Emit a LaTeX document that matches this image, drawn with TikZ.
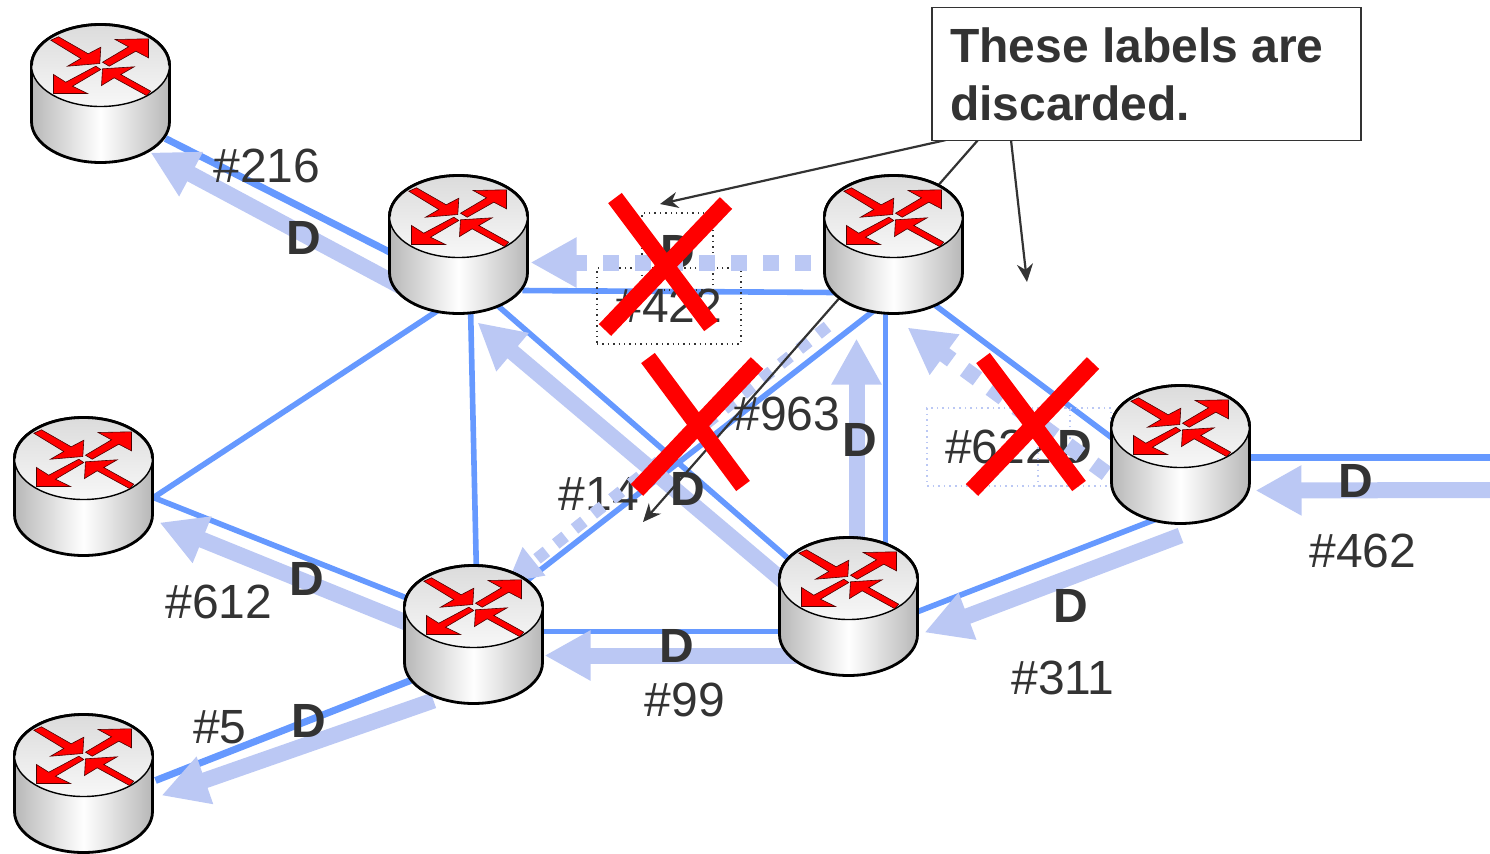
\documentclass[tikz,border=0pt]{standalone}
\usepackage{xcolor}
\usepackage{fontspec}
\usepackage{tikz}
\usetikzlibrary{arrows.meta,calc}
\setmainfont{Liberation Sans}
\definecolor{linkblue}{HTML}{6699FF}
\definecolor{lightblue}{HTML}{BBC8F4}
\definecolor{inkgray}{HTML}{333333}
\tikzset{
  routerbox/.style={inner sep=0pt,minimum size=69pt},
  link/.style={draw=linkblue,line width=2.8pt},
  heavylink/.style={draw=linkblue,line width=3.5pt},
  flow/.style={draw=lightblue,line width=8pt,-{Triangle[width=23.5pt,length=23pt,fill=lightblue]}},
  dotflow/.style={flow,dash pattern=on 8pt off 8pt},
  smalldotflow/.style={draw=lightblue,line width=6pt,dash pattern=on 6pt off 6pt,-{Triangle[width=17pt,length=17pt,fill=lightblue]}},
  pointer/.style={draw=inkgray,line width=1.1pt,-{Stealth[length=9pt,width=8pt]}},
  cross/.style={draw=red,line width=8.5pt},
  numlabel/.style={inner sep=0pt,text=inkgray,font=\fontsize{24}{29}\selectfont},
  dlabel/.style={numlabel,font=\fontsize{24}{29}\selectfont\bfseries},
  darkbox/.style={draw=inkgray,dotted,line width=.7pt},
  lightbox/.style={draw=lightblue,dotted,line width=.8pt},
  router/.pic={
    \path[draw=black,line width=1.4pt,left color=black!28,right color=black!28,middle color=white]
      (-69,-29) -- (-69,27) arc[start angle=180,end angle=0,x radius=69,y radius=41] -- (69,-29)
      arc[start angle=0,end angle=-180,x radius=69,y radius=41] -- cycle;
    \path[draw=black,line width=.7pt,top color=black!14,bottom color=black!3]
      (0,-29) ellipse[x radius=69,y radius=41];
    \draw[black,line width=1.4pt] (-69,-29) arc[start angle=180,end angle=360,x radius=69,y radius=41];
    \path[fill=red,draw=black!70!red,line width=.3pt] (-49.7,-54.3) -- (-42,-57.7) -- (-12.3,-40.7) -- (.3,-47.3) -- (-.7,-31) -- (-33,-28.3) -- (-19.7,-36) -- cycle;
    \path[fill=red,draw=black!70!red,line width=.3pt] (2,-32.3) -- (28,-47.7) -- (14.7,-55) -- (48,-55.7) -- (48,-36.7) -- (35.3,-43.3) -- (8.7,-28.3) -- cycle;
    \path[fill=red,draw=black!70!red,line width=.3pt] (-4.7,-28.3) -- (.3,-25) -- (-28,-8.3) -- (-13,-1) -- (-47,-1) -- (-47,-20) -- (-34.7,-12.3) -- cycle;
    \path[fill=red,draw=black!70!red,line width=.3pt] (2,-25.7) -- (33.7,-27.7) -- (20.3,-20) -- (50.3,-3.3) -- (46,1) -- (13.7,-16.7) -- (1,-9) -- cycle;
  }
}
\begin{document}
\begin{tikzpicture}[x=.5pt,y=-.5pt]
  \useasboundingbox (0,0) rectangle (1490,853);

  \foreach \name/\x/\y in {rA/100.5/94.5,rB/458.5/245.5,rC/893.5/245.5,rD/1180.5/455.5,rE/83.5/487.5,rF/473.5/635.5,rG/848.5/607.5,rH/83.5/784.5}
    \node[routerbox] (\name) at (\x,\y) {};
  \coordinate (edgeLink) at (1490,457);
  \coordinate (edgeFlow) at (1490,490);

  % physical links
  \draw[heavylink] ($(rA)+(65,44)$) -- ($(rB)+(-66,8)$);
  \draw[link] ($(rB)+(64,45)$) -- ($(rC)+(-58,47)$);
  \draw[link] ($(rB)+(-13,60)$) -- ($(rE)+(70,10)$);
  \draw[link] ($(rB)+(12,60)$) -- ($(rF)+(3,-60)$);
  \draw[link] ($(rB)+(39,60)$) -- ($(rG)+(-58,-47)$);
  \draw[link] ($(rC)+(-13,60)$) -- ($(rF)+(47,-50)$);
  \draw[link] ($(rC)+(-8,60)$) -- ($(rG)+(37,-60)$);
  \draw[link] ($(rC)+(42,60)$) -- ($(rD)+(-65,-15)$);
  \draw[heavylink] (rD.east |- edgeLink) -- (edgeLink);
  \draw[link] ($(rD)+(-15,60)$) -- ($(rG)+(67,5)$);
  \draw[link] ($(rE)+(70,10)$) -- ($(rF)+(-68,-38)$);
  \draw[link] ($(rF)+(67,-4)$) -- ($(rG)+(-68,24)$);
  \draw[heavylink] ($(rF)+(-63,45)$) -- ($(rH)+(72,-4)$);

  % labels under the dotted flows
  \node[numlabel] (n14) at (599,494) {\#14};
  \node[numlabel,lightbox,minimum width=71.5pt,minimum height=39pt] (n622) at (998.5,447) {\#622};
  \node[dlabel,lightbox,minimum width=36.5pt,minimum height=39pt] (d622) at (1074.5,447) {D};
  \node[numlabel,darkbox,minimum width=72pt,minimum height=38pt] (n422) at (669,306) {\#422};
  \node[dlabel,darkbox,minimum width=35.5pt,minimum height=38.5pt] (d422) at (677.5,251.5) {D};

  % label flows
  \draw[flow] ($(rB)+(-50,45)$) -- ($(rA)+(50,58)$);
  \draw[flow] ($(rG)+(-60,-22)$) -- ($(rB)+(19,77)$);
  \draw[flow] ($(rG)+(8,-60)$) -- ($(rC)+(-37,93)$);
  \draw[flow] (edgeFlow) -- ($(rD)+(75,35)$);
  \draw[flow] ($(rD)+(0,80)$) -- ($(rG)+(76,25)$);
  \draw[flow] ($(rG)+(-50,48)$) -- ($(rF)+(71,20)$);
  \draw[flow] ($(rF)+(-60,-10)$) -- ($(rE)+(76,35)$);
  \draw[flow] ($(rF)+(-40,65)$) -- ($(rH)+(78,11)$);
  \draw[dotflow] ($(rC)+(-83,17)$) -- ($(rB)+(72,17)$);
  \draw[smalldotflow] ($(rC)+(-66,81)$) -- ($(rF)+(34,-53)$);
  \draw[dotflow] ($(rD)+(-74,18)$) -- ($(rC)+(14,82)$);

  % callout
  \draw[pointer] (946,140) -- (660,204);
  \draw[pointer] (978,140) -- (643,522);
  \draw[pointer] (1011,140) -- (1027,282);

  \foreach \name in {rA,rB,rC,rD,rE,rF,rG,rH}
    \pic at (\name) {router};

  \node[draw=inkgray,line width=.8pt,fill=white,text=inkgray,inner xsep=9pt,inner ysep=0pt,text width=196.5pt,minimum height=66.5pt,
        align=left,font=\fontsize{24}{29}\selectfont\bfseries] (note) at (1146.5,74)
    {\spaceskip=.278em\relax These labels are\\discarded.};

  \node[numlabel] (n216) at (267,166) {\#216};
  \node[dlabel] (d216) at (304,238) {D};
  \node[dlabel] (d963) at (860,440) {D};
  \node[numlabel] (n963) at (787,414) {\#963};
  \node[dlabel] (d14) at (688,489) {D};
  \node[dlabel] (d462) at (1356,481) {D};
  \node[numlabel] (n462) at (1363,551) {\#462};
  \node[dlabel] (d311) at (1071,606) {D};
  \node[numlabel] (n311) at (1063,678) {\#311};
  \node[dlabel] (d99) at (677,646) {D};
  \node[numlabel] (n99) at (685,700) {\#99};
  \node[dlabel] (d612) at (307,579) {D};
  \node[numlabel] (n612) at (219,602) {\#612};
  \node[dlabel] (d5) at (309,721) {D};
  \node[numlabel] (n5) at (220,727) {\#5};

  % discarded labels
  \draw[cross] (615,198) -- (711,326);
  \draw[cross] (726,203) -- (605,330);
  \draw[cross] (648,358) -- (743,486);
  \draw[cross] (757,363) -- (637,490);
  \draw[cross] (983,358) -- (1079,486);
  \draw[cross] (1093,363) -- (972,490);
\end{tikzpicture}
\end{document}
